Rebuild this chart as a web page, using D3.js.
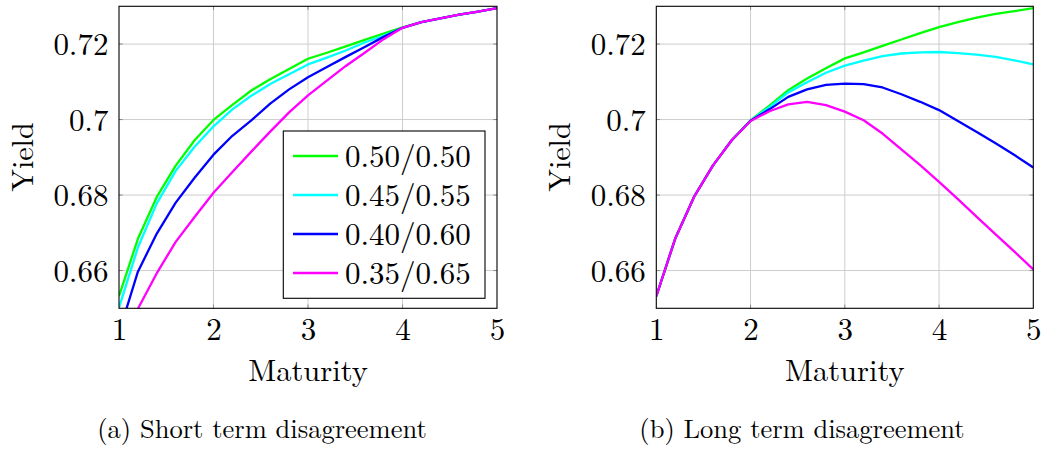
<!DOCTYPE html>
<html><head><meta charset="utf-8">
<script src="https://cdn.jsdelivr.net/npm/d3@7"></script>
<style>body{margin:0;background:#fff}svg{display:block}</style>
</head><body>
<svg id="c" width="1043" height="449"></svg>
<script>
// ---------- data ----------
const maturity = [1.0,1.2,1.4,1.6,1.8,2.0,2.2,2.4,2.6,2.8,3.0,3.2,3.4,3.6,3.8,4.0,4.2,4.4,4.6,4.8,5.0];
const seriesLabels = ["0.50/0.50","0.45/0.55","0.40/0.60","0.35/0.65"];
const seriesColors = ["#00ff00","#00ffff","#0000ff","#ff00ff"];

// (a) short term disagreement
const shortA_050 = [0.6532,0.6684,0.6795,0.6878,0.6945,0.6999,0.7039,0.7077,0.7107,0.7134,0.7161,0.7177,0.7194,0.7211,0.7228,0.7244,0.7258,0.7268,0.7278,0.7286,0.7295];
const shortA_045 = [0.6502,0.6661,0.6778,0.6864,0.6928,0.6982,0.7027,0.7063,0.7094,0.7120,0.7146,0.7164,0.7183,0.7204,0.7222,0.7243,0.7258,0.7268,0.7278,0.7286,0.7295];
const shortA_040 = [0.6435,0.6597,0.6698,0.6780,0.6846,0.6907,0.6957,0.6998,0.7042,0.7080,0.7112,0.7139,0.7166,0.7192,0.7219,0.7243,0.7258,0.7268,0.7278,0.7286,0.7295];
const shortA_035 = [0.6360,0.6499,0.6593,0.6676,0.6742,0.6806,0.6861,0.6915,0.6968,0.7019,0.7064,0.7103,0.7142,0.7177,0.7213,0.7243,0.7258,0.7268,0.7278,0.7286,0.7295];

// (b) long term disagreement
const longB_050 = [0.6532,0.6684,0.6795,0.6878,0.6945,0.6998,0.7037,0.7078,0.7109,0.7136,0.7162,0.7178,0.7195,0.7212,0.7229,0.7245,0.7258,0.7270,0.7280,0.7287,0.7295];
const longB_045 = [0.6532,0.6684,0.6795,0.6878,0.6945,0.6997,0.7033,0.7072,0.7099,0.7124,0.7143,0.7156,0.7168,0.7175,0.7178,0.7179,0.7176,0.7172,0.7166,0.7157,0.7146];
const longB_040 = [0.6532,0.6684,0.6795,0.6878,0.6945,0.6997,0.7027,0.7060,0.7080,0.7092,0.7095,0.7094,0.7085,0.7067,0.7047,0.7025,0.6996,0.6967,0.6937,0.6906,0.6873];
const longB_035 = [0.6532,0.6684,0.6795,0.6878,0.6945,0.6996,0.7022,0.7040,0.7047,0.7038,0.7021,0.6998,0.6963,0.6921,0.6879,0.6835,0.6789,0.6742,0.6696,0.6650,0.6603];

const xTicks = [1,2,3,4,5];
const xTickLabels = ["1","2","3","4","5"];
const yTicks = [0.66,0.68,0.70,0.72];
const yTickLabels = ["0.66","0.68","0.7","0.72"];
const xDomain = [1,5];
const yDomain = [0.65,0.73];
const xTitle = "Maturity";
const yTitle = "Yield";
const captions = ["(a) Short term disagreement","(b) Long term disagreement"];

// ---------- drawing ----------
(function(){
const FONT = "Latin Modern Roman";
const svg = d3.select("#c");
const pTop = 6.3, pBottom = 308.3;

const panels = [
  {left:119, right:497, series:[shortA_050,shortA_045,shortA_040,shortA_035], caption:captions[0], capX:262, yTitleX:33, legend:true},
  {left:656.3, right:1033.3, series:[longB_050,longB_045,longB_040,longB_035], caption:captions[1], capX:802, yTitleX:570, legend:false}
];

panels.forEach((p, pi) => {
  const x = d3.scaleLinear().domain(xDomain).range([p.left, p.right]);
  const y = d3.scaleLinear().domain(yDomain).range([pBottom, pTop]);
  const g = svg.append("g");
  const w = p.right - p.left, h = pBottom - pTop;

  // grid
  g.append("g").selectAll("line").data(xTicks.slice(1,-1)).join("line")
    .attr("x1", d=>x(d)).attr("x2", d=>x(d)).attr("y1", pTop).attr("y2", pBottom)
    .attr("stroke","#cdcdcd").attr("stroke-width",1);
  g.append("g").selectAll("line").data(yTicks).join("line")
    .attr("y1", d=>y(d)).attr("y2", d=>y(d)).attr("x1", p.left).attr("x2", p.right)
    .attr("stroke","#cdcdcd").attr("stroke-width",1);

  // small tick marks on all four sides
  const tl = 3.7, tc = "#8a8a8a";
  xTicks.slice(1,-1).forEach(t => {
    g.append("line").attr("x1",x(t)).attr("x2",x(t)).attr("y1",pBottom).attr("y2",pBottom-tl).attr("stroke",tc);
    g.append("line").attr("x1",x(t)).attr("x2",x(t)).attr("y1",pTop).attr("y2",pTop+tl).attr("stroke",tc);
  });
  yTicks.forEach(t => {
    g.append("line").attr("y1",y(t)).attr("y2",y(t)).attr("x1",p.left).attr("x2",p.left+tl).attr("stroke",tc);
    g.append("line").attr("y1",y(t)).attr("y2",y(t)).attr("x1",p.right).attr("x2",p.right-tl).attr("stroke",tc);
  });

  // clip
  const cid = "clip"+pi;
  svg.append("clipPath").attr("id",cid).append("rect")
    .attr("x",p.left).attr("y",pTop).attr("width",w).attr("height",h);

  const line = d3.line().x((d,i)=>x(maturity[i])).y(d=>y(d));
  const lg = g.append("g").attr("clip-path","url(#"+cid+")");
  p.series.forEach((s, si) => {
    lg.append("path").datum(s).attr("d", line).attr("fill","none")
      .attr("stroke", seriesColors[si]).attr("stroke-width",2.3)
      .attr("stroke-linejoin","round").attr("stroke-linecap","butt");
  });

  // frame
  g.append("rect").attr("x",p.left).attr("y",pTop).attr("width",w).attr("height",h)
    .attr("fill","none").attr("stroke","#000").attr("stroke-width",1.1);

  // x tick labels
  const xa = d3.axisBottom(x).tickValues(xTicks).tickFormat((d,i)=>xTickLabels[i]).tickSize(0);
  const xg = g.append("g").attr("transform","translate(0,"+pBottom+")").call(xa);
  xg.select(".domain").remove();
  xg.attr("font-family",FONT).attr("font-size",31);
  xg.selectAll("text").attr("y", 31.5).attr("dy",0)
    .attr("font-family",FONT).attr("font-size",31).attr("fill","#000");

  // y tick labels
  const ya = d3.axisLeft(y).tickValues(yTicks).tickFormat((d,i)=>yTickLabels[i]).tickSize(0);
  const yg = g.append("g").attr("transform","translate("+p.left+",0)").call(ya);
  yg.select(".domain").remove();
  yg.attr("font-family",FONT).attr("font-size",31);
  yg.selectAll("text").attr("x",-10.5).attr("dy","0.35em")
    .attr("font-family",FONT).attr("font-size",31).attr("fill","#000");

  // axis titles
  g.append("text").attr("x",(p.left+p.right)/2).attr("y",381).attr("text-anchor","middle")
    .attr("font-family",FONT).attr("font-size",30.5).text(xTitle);
  g.append("text").attr("transform","translate("+p.yTitleX+",157) rotate(-90)").attr("text-anchor","middle")
    .attr("font-family",FONT).attr("font-size",30).text(yTitle);

  // caption
  g.append("text").attr("x",p.capX).attr("y",438).attr("text-anchor","middle")
    .attr("font-family",FONT).attr("font-size",26.5).text(p.caption);

  // legend
  if (p.legend) {
    const lgd = g.append("g");
    lgd.append("rect").attr("x",283.3).attr("y",131).attr("width",201.7).attr("height",167.3)
      .attr("fill","#fff").attr("stroke","#000").attr("stroke-width",1.1);
    seriesLabels.forEach((lab, i) => {
      const cy = 156 + i*39;
      lgd.append("line").attr("x1",293).attr("x2",338).attr("y1",cy).attr("y2",cy)
        .attr("stroke",seriesColors[i]).attr("stroke-width",2.3);
      lgd.append("text").attr("x",345).attr("y",cy).attr("dy","0.35em")
        .attr("font-family",FONT).attr("font-size",31).text(lab);
    });
  }
});
})();
</script>
</body></html>
